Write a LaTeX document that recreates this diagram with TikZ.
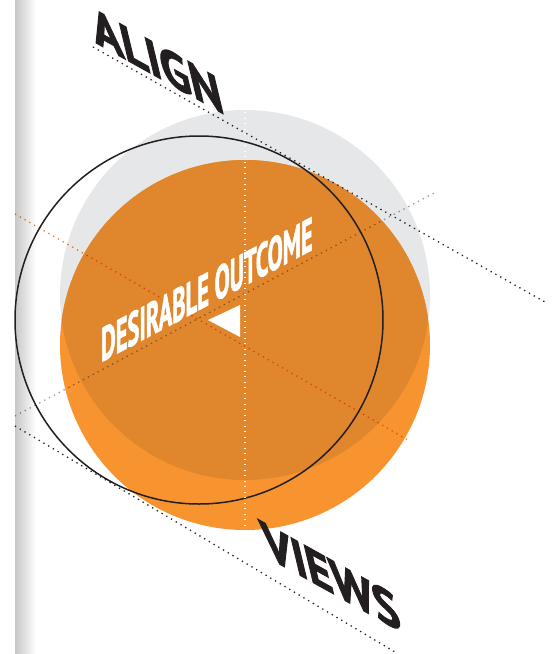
\documentclass[tikz,border=0pt]{standalone}
\usepackage{fontspec}
\setmainfont{PT Sans}
\newfontfamily\heavyface[FakeBold=2.2]{PT Sans Bold}
\definecolor{paleGray}{RGB}{230,231,232}
\definecolor{sunOrange}{RGB}{247,148,47}
\definecolor{deepOrange}{RGB}{224,135,46}
\definecolor{inkBlack}{RGB}{35,31,32}
\tikzset{
	dotline/.style = {line width=1.3pt, dash pattern=on 1.3pt off 4.2pt},
	bigword/.style = {font=\heavyface\fontsize{54}{54}\selectfont, text=inkBlack, inner sep=0pt, anchor=base west, cm={0.9,-0.5,-0.24,1,(0,0)}},
	slogan/.style = {font=\heavyface\fontsize{47}{47}\selectfont, text=white, inner sep=0pt, anchor=base west, cm={0.48,0.255,0,1,(0,0)}}
}

\begin{document}
\begin{tikzpicture}[x=1pt, y=-1pt]
	\useasboundingbox (0,0) rectangle (554,654);
	% page edge shadow
	\shade[left color=black!22, right color=white] (15,0) rectangle (36,654);
	% the two views and where they overlap
	\coordinate (grayC) at (245,295);
	\coordinate (orangeC) at (245,345);
	\fill[paleGray] (grayC) circle (185pt);
	\fill[sunOrange] (orangeC) circle (185pt);
	\begin{scope}
		\clip (grayC) circle (185pt);
		\fill[deepOrange] (orangeC) circle (185pt);
	\end{scope}
	% axes through the centres
	\coordinate (g1) at (15,416);
	\coordinate (g2) at (436,192);
	\coordinate (o1) at (15,214);
	\coordinate (o2) at (408,440);
	\draw[dotline, black!40, blend mode=multiply] (g1) -- (g2);
	\draw[dotline, sunOrange!85!red, blend mode=multiply] (o1) -- (o2);
	\draw[line width=1.5pt, inkBlack] (199,320) circle (184pt);
	% guide lines for the labels
	\coordinate (a1) at (93,47);
	\coordinate (a2) at (545,302);
	\coordinate (v1) at (15,426);
	\coordinate (v2) at (395,652);
	\draw[dotline, inkBlack] (a1) -- (a2);
	\draw[dotline, inkBlack] (v1) -- (v2);
	\coordinate (top) at (245,112);
	\coordinate (bottom) at (245,528);
	\draw[dotline, white, line width=1.2pt] (top) -- (bottom);
	\node[bigword] (align) at (96,43) {ALIGN};
	\node[bigword] (views) at (267,557) {VIEWS};
	\node[slogan] (goal) at (101,362) {DESIRABLE OUTCOME};
	\fill[white] (208,320) -- (240,305) -- (240,337) -- cycle;
\end{tikzpicture}
\end{document}
